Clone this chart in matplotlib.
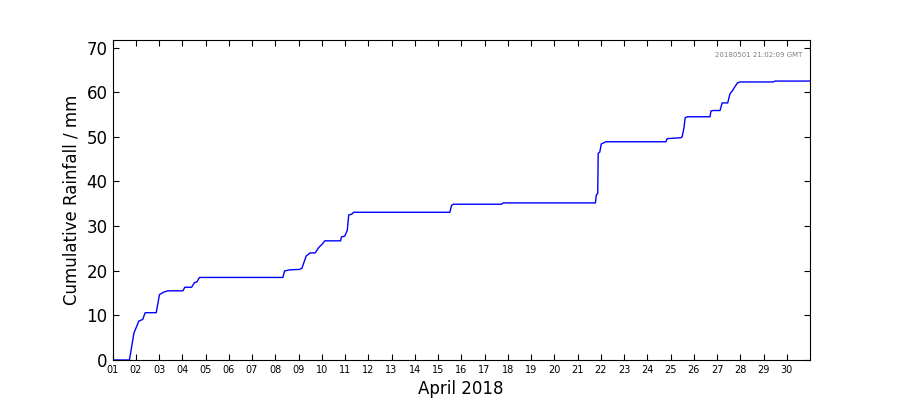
import pandas as pd
import matplotlib
matplotlib.use('Agg')
import matplotlib.pyplot as plt
import matplotlib.dates as mdates

# === data (days since 2018-04-01 00:00 GMT, mm) ===
day_offset = [0.0, 0.73, 0.92, 1.13, 1.30, 1.39, 1.41, 1.88, 2.02, 2.20,
              2.38, 3.03, 3.11, 3.40, 3.53, 3.63, 3.74, 7.33, 7.40, 7.62,
              8.05, 8.15, 8.33, 8.50, 8.72, 8.87, 9.01, 9.13, 9.81, 9.85,
              9.99, 10.10, 10.16, 10.30, 10.37, 14.51, 14.58, 14.65, 16.73, 16.80,
              20.77, 20.81, 20.87, 20.89, 20.96, 21.02, 21.22, 23.80, 23.86, 24.45,
              24.50, 24.58, 24.63, 24.72, 25.70, 25.74, 25.84, 26.13, 26.22, 26.46,
              26.56, 26.66, 26.78, 26.88, 27.00, 28.42, 28.50, 30.0]
rain_mm = [0.0, 0.0, 6.0, 8.7, 9.1, 10.4, 10.6, 10.6, 14.65, 15.2,
           15.5, 15.5, 16.3, 16.3, 17.35, 17.5, 18.5, 18.5, 19.95, 20.2,
           20.3, 20.6, 23.3, 24.0, 24.0, 25.2, 25.9, 26.7, 26.7, 27.6,
           27.75, 29.1, 32.5, 32.7, 33.1, 33.1, 34.6, 34.9, 34.9, 35.2,
           35.2, 37.0, 37.3, 46.3, 46.6, 48.4, 48.9, 48.9, 49.6, 49.8,
           50.0, 52.0, 54.3, 54.5, 54.5, 55.8, 55.9, 55.9, 57.6, 57.6,
           59.7, 60.3, 61.3, 62.1, 62.3, 62.3, 62.5, 62.5]

start = pd.Timestamp('2018-04-01')
end = pd.Timestamp('2018-05-01')
times = [start + pd.Timedelta(days=d) for d in day_offset]
day_ticks = pd.date_range(start, periods=30, freq='D')
stamp = '20180501 21:02:09 GMT'

fig, ax = plt.subplots(figsize=(9, 4), dpi=100)
fig.subplots_adjust(left=0.125, right=0.9, bottom=0.1, top=0.9)

ax.plot(times, rain_mm, color='#0000ff', linewidth=1.0)

ax.set_xlim(start, end)
ax.set_ylim(0, 71.7)
ax.set_yticks(range(0, 71, 10))

ax.set_xticks(day_ticks)
ax.xaxis.set_major_formatter(mdates.DateFormatter('%d'))
ax.tick_params(axis='x', labelsize=7)
ax.tick_params(axis='y', labelsize=12)
ax.tick_params(direction='in', length=4, top=True, right=True)

ax.set_xlabel('April 2018', fontsize=12)
ax.set_ylabel('Cumulative Rainfall / mm', fontsize=12)

ax.text(0.9895, 0.953, stamp, transform=ax.transAxes, ha='right', va='center',
        fontsize=5, color='grey')

plt.savefig('out.png', dpi=100)
